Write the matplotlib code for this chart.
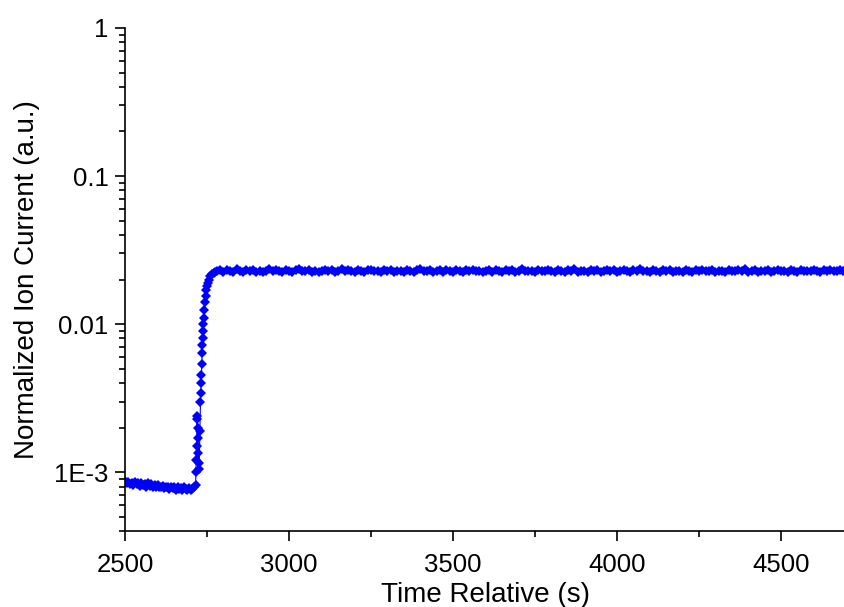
import matplotlib
matplotlib.use("Agg")
import matplotlib.pyplot as plt
from matplotlib.ticker import FixedLocator, FixedFormatter, LogLocator, MultipleLocator

plt.rcParams["font.family"] = ["Liberation Sans", "DejaVu Sans"]

# baseline before the step (every 5 s)
base_t = list(range(2500, 2715, 5))
base_y = [8.7e-4, 8.4e-4, 8.6e-4, 8.3e-4, 8.5e-4, 8.2e-4, 8.6e-4, 8.3e-4, 8.4e-4, 8.1e-4,
          8.5e-4, 8.2e-4, 8.3e-4, 8.0e-4, 8.4e-4, 8.1e-4, 8.3e-4, 8.0e-4, 8.2e-4, 7.9e-4,
          8.2e-4, 8.0e-4, 7.9e-4, 8.1e-4, 7.8e-4, 8.0e-4, 7.9e-4, 7.7e-4, 8.0e-4, 7.8e-4,
          7.9e-4, 7.6e-4, 7.9e-4, 7.7e-4, 7.8e-4, 7.6e-4, 7.9e-4, 7.7e-4, 7.6e-4, 7.8e-4,
          7.6e-4, 7.7e-4, 7.9e-4]

# the jump and the rise
step_t = [2715, 2716, 2717, 2718, 2719, 2720, 2721, 2722, 2723, 2724, 2726, 2728,
          2730, 2731, 2732, 2733, 2734, 2735, 2736, 2737, 2738, 2739, 2740, 2742,
          2744, 2746, 2748, 2750, 2753, 2756, 2760, 2765, 2770, 2775]
step_y = [8.2e-4, 1.0e-3, 1.2e-3, 1.5e-3, 2.3e-3, 2.4e-3, 2.0e-3, 1.7e-3, 1.35e-3, 1.15e-3, 1.05e-3, 1.9e-3,
          3.0e-3, 3.4e-3, 4.0e-3, 4.5e-3, 5.4e-3, 6.4e-3, 7.2e-3, 8.0e-3, 9.0e-3, 1.0e-2, 1.1e-2, 1.25e-2,
          1.4e-2, 1.55e-2, 1.7e-2, 1.8e-2, 1.9e-2, 2.0e-2, 2.1e-2, 2.17e-2, 2.22e-2, 2.25e-2]

# plateau (every 10 s)
plat_t = list(range(2780, 4710, 10))
plat_y = [0.0228, 0.0233, 0.0225, 0.0231, 0.0229, 0.0226, 0.0234, 0.0229, 0.0224, 0.0232,
          0.0229, 0.0233, 0.0226, 0.0230, 0.0225, 0.0229, 0.0234, 0.0227, 0.0231, 0.0228,
          0.0224, 0.0232, 0.0229, 0.0226, 0.0231, 0.0235, 0.0227, 0.0229, 0.0233, 0.0225,
          0.0230, 0.0226, 0.0229, 0.0233, 0.0227, 0.0231, 0.0224, 0.0229, 0.0234, 0.0227,
          0.0231, 0.0228, 0.0225, 0.0232, 0.0229, 0.0226, 0.0231, 0.0233, 0.0227, 0.0229,
          0.0224, 0.0231, 0.0228, 0.0233, 0.0226, 0.0230, 0.0229, 0.0225, 0.0232, 0.0228,
          0.0226, 0.0231, 0.0234, 0.0227, 0.0229, 0.0231, 0.0225, 0.0229, 0.0233, 0.0226,
          0.0231, 0.0228, 0.0226, 0.0232, 0.0229, 0.0224, 0.0231, 0.0228, 0.0233, 0.0227,
          0.0230, 0.0226, 0.0229, 0.0233, 0.0225, 0.0231, 0.0228, 0.0226, 0.0232, 0.0229,
          0.0231, 0.0226, 0.0229, 0.0234, 0.0227, 0.0230, 0.0228, 0.0225, 0.0232, 0.0229,
          0.0227, 0.0233, 0.0228, 0.0225, 0.0231, 0.0229, 0.0226, 0.0232, 0.0228, 0.0234,
          0.0226, 0.0230, 0.0229, 0.0224, 0.0231, 0.0228, 0.0233, 0.0226, 0.0229, 0.0232,
          0.0227, 0.0231, 0.0225, 0.0229, 0.0233, 0.0228, 0.0226, 0.0231, 0.0229, 0.0234,
          0.0227, 0.0230, 0.0225, 0.0232, 0.0228, 0.0226, 0.0231, 0.0229, 0.0233, 0.0225,
          0.0230, 0.0228, 0.0226, 0.0232, 0.0229, 0.0224, 0.0231, 0.0228, 0.0233, 0.0227,
          0.0229, 0.0232, 0.0226, 0.0230, 0.0228, 0.0225, 0.0233, 0.0229, 0.0227, 0.0231,
          0.0228, 0.0234, 0.0226, 0.0229, 0.0231, 0.0225, 0.0230, 0.0228, 0.0232, 0.0226,
          0.0229, 0.0233, 0.0227, 0.0230, 0.0225, 0.0231, 0.0229, 0.0226, 0.0232, 0.0228,
          0.0230, 0.0227, 0.0233, 0.0229, 0.0226, 0.0231, 0.0228, 0.0232, 0.0229, 0.0227,
          0.0231, 0.0228, 0.0230]

t = base_t + step_t + plat_t
y = base_y + step_y + plat_y

ytick_vals = [1e-3, 1e-2, 1e-1, 1]
ytick_labels = ["1E-3", "0.01", "0.1", "1"]

fig = plt.figure(figsize=(8.45, 6.07), dpi=100)
ax = fig.add_axes([0.148, 0.125, 0.852, 0.829])

ax.plot(t, y, color="#0000FF", lw=0.8, marker="D", markersize=5.5,
        markeredgewidth=0)

ax.set_yscale("log")
ax.set_ylim(4e-4, 1)
ax.set_xlim(2500, 4695)

ax.yaxis.set_major_locator(FixedLocator(ytick_vals))
ax.yaxis.set_major_formatter(FixedFormatter(ytick_labels))
ax.yaxis.set_minor_locator(LogLocator(base=10, subs=range(2, 10)))
ax.xaxis.set_major_locator(MultipleLocator(500))
ax.xaxis.set_minor_locator(MultipleLocator(250))

for s in ["top", "right"]:
    ax.spines[s].set_visible(False)
for s in ["left", "bottom"]:
    ax.spines[s].set_linewidth(1.2)

ax.tick_params(which="major", direction="out", length=7, width=1.2, labelsize=18.5)
ax.tick_params(axis="x", which="major", pad=9)
ax.tick_params(axis="y", which="major", pad=5)
ax.tick_params(which="minor", direction="out", length=4, width=1.2)

ax.set_xlabel("Time Relative (s)", fontsize=20, labelpad=3)
ax.set_ylabel("Normalized Ion Current (a.u.)", fontsize=20, labelpad=10)

fig.savefig("out.png", dpi=100)
